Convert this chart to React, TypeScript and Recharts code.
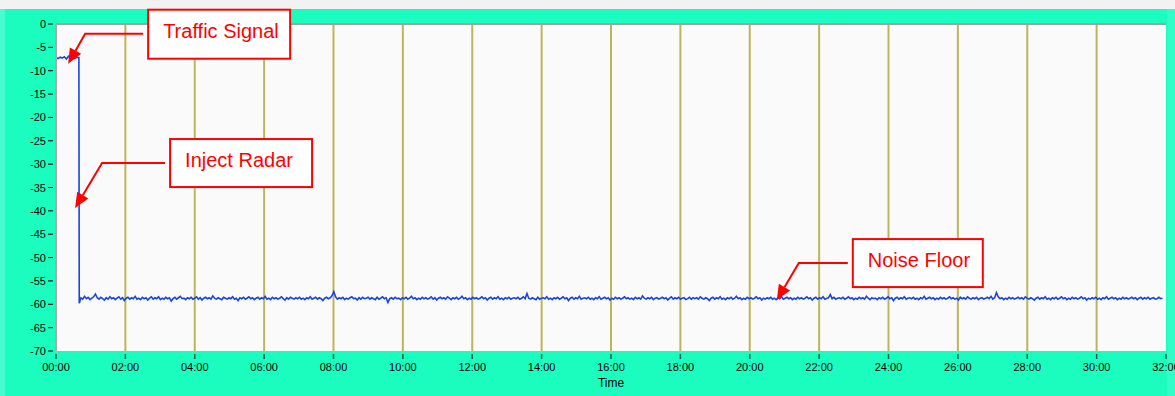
import { LineChart, Line, XAxis, YAxis, CartesianGrid, ReferenceLine, ReferenceDot } from 'recharts'

// time axis in minutes, level in dB
const xTicks = [0, 2, 4, 6, 8, 10, 12, 14, 16, 18, 20, 22, 24, 26, 28, 30, 32]
const gridTicks = [2, 4, 6, 8, 10, 12, 14, 16, 18, 20, 22, 24, 26, 28, 30]
const yTicks = [0, -5, -10, -15, -20, -25, -30, -35, -40, -45, -50, -55, -60, -65, -70]

// traffic signal before the radar is injected
const signalTimes = [0, 0.06, 0.12, 0.18, 0.24, 0.3, 0.36, 0.42, 0.48, 0.54, 0.6, 0.66]
const signalValues = [-7.2, -7.4, -7.1, -7.3, -7.0, -7.5, -6.9, -7.3, -7.2, -7.4, -7.1, -7.2]

// the drop when radar is injected
const dropTime = 0.67
const dropValue = -59.8

// noise floor samples, evenly spaced from NOISE_START to NOISE_END
const NOISE_START = 0.72
const NOISE_END = 31.9
const noiseValues = [
  -58.6, -58.9, -58.3, -58.8, -58.5, -59.0, -58.7, -58.4, -57.8, -58.6, -58.9, -58.5, -58.8, -59.1, -58.6, -58.9, -58.4, -58.8, -58.6, -59.0,
  -58.7, -58.4, -58.9, -58.6, -59.2, -58.7, -58.5, -58.9, -58.6, -58.8, -58.3, -58.9, -58.7, -59.0, -58.5, -58.8, -58.6, -59.1, -58.7, -58.4,
  -58.9, -58.6, -58.8, -58.4, -59.0, -58.7, -58.9, -58.5, -58.8, -58.6, -59.3, -58.8, -58.5, -58.9, -58.6, -58.3, -58.8, -58.7, -59.0, -58.6,
  -58.8, -58.5, -58.9, -58.7, -58.4, -58.9, -58.6, -59.1, -58.7, -58.5, -58.8, -58.6, -58.9, -58.2, -58.7, -58.9, -58.6, -58.8, -59.0, -58.5,
  -58.7, -58.9, -58.6, -58.8, -58.4, -58.9, -58.7, -59.2, -58.6, -58.8, -58.5, -58.9, -58.7, -58.4, -58.8, -58.6, -59.0, -58.7, -58.5, -58.9,
  -58.6, -58.8, -58.3, -58.9, -58.7, -59.0, -58.5, -58.8, -58.6, -58.9, -58.7, -58.4, -58.8, -59.1, -58.6, -58.9, -58.5, -58.7, -58.9, -58.6,
  -58.8, -58.5, -58.9, -58.7, -59.0, -58.6, -58.8, -58.4, -58.9, -58.7, -58.5, -58.9, -58.6, -58.8, -59.2, -58.7, -58.5, -58.8, -58.6, -58.2,
  -57.3, -58.4, -58.9, -58.6, -58.8, -58.5, -59.0, -58.7, -58.9, -58.6, -58.4, -58.8, -58.7, -59.1, -58.6, -58.9, -58.5, -58.8, -58.7, -58.5,
  -58.9, -58.6, -58.8, -59.0, -58.5, -58.9, -58.7, -58.4, -58.8, -58.6, -59.6, -58.8, -58.6, -58.9, -58.5, -58.8, -58.7, -59.0, -58.6, -58.8,
  -58.5, -58.9, -58.7, -58.3, -58.8, -58.6, -59.0, -58.7, -58.9, -58.5, -58.8, -58.6, -58.9, -58.7, -58.4, -58.9, -58.6, -59.1, -58.7, -58.5,
  -58.8, -58.6, -58.9, -58.4, -58.7, -59.0, -58.6, -58.8, -58.5, -58.9, -58.7, -58.3, -58.8, -58.6, -59.0, -58.7, -58.9, -58.5, -58.8, -58.6,
  -58.9, -58.7, -58.4, -58.8, -58.6, -59.1, -58.7, -58.5, -58.9, -58.6, -58.8, -58.4, -58.9, -58.7, -59.0, -58.6, -58.8, -58.5, -58.9, -58.7,
  -58.6, -58.8, -58.5, -58.9, -58.7, -58.4, -58.8, -57.7, -58.7, -58.9, -58.6, -58.8, -59.0, -58.5, -58.9, -58.7, -58.6, -58.8, -58.4, -58.9,
  -58.7, -59.0, -58.6, -58.8, -58.5, -58.9, -58.7, -58.4, -58.8, -58.6, -59.2, -58.7, -58.5, -58.9, -58.6, -58.8, -58.3, -58.9, -58.7, -58.6,
  -58.8, -58.5, -58.9, -58.7, -59.0, -58.6, -58.8, -58.4, -58.9, -58.7, -58.5, -58.8, -58.6, -59.1, -58.7, -58.9, -58.5, -58.8, -58.6, -58.9,
  -58.7, -58.4, -58.8, -58.6, -58.9, -58.7, -59.0, -58.5, -58.8, -58.6, -58.9, -58.2, -58.7, -58.9, -58.6, -58.8, -58.5, -59.0, -58.7, -58.6,
  -58.9, -58.7, -58.5, -58.8, -58.6, -59.1, -58.7, -58.4, -58.9, -58.6, -58.8, -58.5, -58.9, -58.7, -58.6, -59.0, -58.8, -58.5, -58.9, -58.6,
  -58.8, -58.6, -58.9, -58.4, -58.7, -58.9, -58.6, -58.8, -59.2, -58.7, -58.5, -58.9, -58.6, -58.8, -58.4, -58.9, -58.7, -59.0, -58.6, -58.8,
  -58.5, -58.9, -58.7, -58.3, -58.8, -58.6, -59.0, -58.7, -58.9, -58.5, -58.8, -58.6, -58.9, -58.7, -58.4, -58.8, -58.6, -59.1, -58.7, -58.9,
  -58.6, -58.8, -58.5, -58.9, -58.7, -59.0, -58.6, -58.8, -58.4, -58.9, -58.7, -58.5, -58.8, -58.6, -59.0, -58.7, -58.9, -58.5, -58.8, -58.6,
  -58.9, -58.7, -58.4, -58.8, -58.6, -59.1, -58.7, -58.5, -58.9, -58.6, -58.8, -58.4, -58.9, -58.7, -58.6, -57.9, -58.8, -58.5, -58.9, -58.7,
  -58.6, -58.8, -58.5, -58.9, -58.7, -58.4, -58.8, -58.6, -59.0, -58.7, -58.9, -58.5, -58.8, -58.6, -58.9, -58.3, -58.7, -59.0, -58.6, -58.8,
  -58.7, -59.0, -58.6, -58.8, -58.5, -58.9, -58.7, -58.4, -58.8, -58.6, -59.2, -58.7, -58.5, -58.9, -58.6, -58.8, -58.4, -58.9, -58.7, -58.6,
  -58.8, -58.5, -58.9, -58.7, -59.0, -58.6, -58.8, -58.3, -58.9, -58.7, -58.5, -58.8, -58.6, -59.0, -58.7, -58.9, -58.5, -58.8, -58.6, -58.9,
  -58.7, -58.4, -58.8, -58.6, -58.9, -58.7, -59.1, -58.5, -58.8, -58.6, -58.9, -58.4, -58.7, -58.9, -58.6, -58.8, -58.5, -59.0, -58.7, -58.6,
  -58.9, -58.7, -58.5, -58.8, -58.3, -58.9, -58.6, -57.5, -58.4, -58.8, -58.6, -59.0, -58.7, -58.9, -58.5, -58.8, -58.6, -58.9, -58.7, -58.5,
  -58.8, -58.6, -58.9, -58.4, -58.7, -58.9, -58.6, -58.8, -59.1, -58.7, -58.5, -58.9, -58.6, -58.8, -58.4, -58.9, -58.7, -59.0, -58.6, -58.8,
  -58.5, -58.9, -58.7, -58.4, -58.8, -58.6, -59.0, -58.7, -58.9, -58.5, -58.8, -58.6, -58.9, -58.7, -58.4, -58.8, -58.6, -59.1, -58.7, -58.9,
  -58.6, -58.8, -58.5, -58.9, -58.7, -59.0, -58.6, -58.8, -58.4, -58.9, -58.7, -58.5, -58.8, -58.6, -59.0, -58.7, -58.9, -58.5, -58.8, -58.6,
  -58.9, -58.7, -58.5, -58.8, -58.6, -59.0, -58.7, -58.5, -58.9, -58.6, -58.8, -58.5, -58.9, -58.7, -58.6, -58.9, -58.8, -58.5, -58.8, -58.7,
]

// callouts: label, where the arrow points (data coords)
const calloutLabels = ['Traffic Signal', 'Inject Radar', 'Noise Floor']
const calloutTimes = [0.35, 0.55, 20.78]
const calloutLevels = [-8.5, -39.4, -59.1]

const FONT = 'Arial, "Liberation Sans", sans-serif'
const GREEN = '#1bfdbf'
const RED = '#ff0000'

const noiseStep = (NOISE_END - NOISE_START) / (noiseValues.length - 1)
const data = [
  ...signalTimes.map((t, i) => ({ t, v: signalValues[i] })),
  { t: dropTime, v: dropValue },
  ...noiseValues.map((v, i) => ({ t: NOISE_START + i * noiseStep, v })),
]

// box / arrow layout (pixels relative to arrow tip)
const calloutLayout = [
  { box: [80, -54, 142, 49], bend: [17, -30] },
  { box: [95, -69, 142, 48], bend: [27, -45] },
  { box: [76, -61, 130, 48], bend: [22, -37] },
]

const fmtTime = (m: number) => `${String(m).padStart(2, '0')}:00`

function XTick({ x, y, payload }: any) {
  return (
    <g>
      <line x1={x} x2={x} y1={y + 3} y2={y + 8} stroke="#1f5a4f" strokeWidth={1.5} />
      <text x={x} y={y + 20} textAnchor="middle" fontSize={11} fontFamily={FONT} fill="#000">
        {fmtTime(payload.value)}
      </text>
    </g>
  )
}

function YTick({ x, y, payload }: any) {
  return (
    <g>
      <text x={x - 10} y={y + 4} textAnchor="end" fontSize={11} fontFamily={FONT} fill="#000">
        {payload.value}
      </text>
      <line x1={x - 8} x2={x - 3} y1={y} y2={y} stroke="#000" strokeWidth={1} />
    </g>
  )
}

function Callout({ cx, cy, idx }: any) {
  if (cx == null || cy == null) return null
  const { box, bend } = calloutLayout[idx]
  const [bx, by, bw, bh] = box
  const hx = cx + bend[0]
  const hy = cy + bend[1]
  const ang = Math.atan2(cy - hy, cx - hx)
  const len = 15
  const half = 6.5
  const baseX = cx - len * Math.cos(ang)
  const baseY = cy - len * Math.sin(ang)
  const px = -Math.sin(ang) * half
  const py = Math.cos(ang) * half
  return (
    <g>
      <polyline
        points={`${cx + bx - 5},${hy} ${hx},${hy} ${baseX},${baseY}`}
        stroke={RED}
        strokeWidth={2}
        fill="none"
      />
      <polygon points={`${cx},${cy} ${baseX + px},${baseY + py} ${baseX - px},${baseY - py}`} fill={RED} />
      <rect x={cx + bx} y={cy + by} width={bw} height={bh} fill="#fff" stroke={RED} strokeWidth={2} />
      <text x={cx + bx + 15} y={cy + by + 28} fill={RED} fontSize={20} fontFamily={FONT}>
        {calloutLabels[idx]}
      </text>
    </g>
  )
}

export default function App() {
  return (
    <div
      style={{
        position: 'absolute',
        left: 0,
        top: 0,
        width: 1175,
        height: 396,
        background: `linear-gradient(to bottom, #f2f2f2 0px, #f2f2f2 9px, ${GREEN} 9px)`,
      }}
    >
      <div style={{ position: 'absolute', left: 0, top: 9, width: 5, height: 387, background: '#45fdd0' }} />
      <div style={{ position: 'absolute', right: 0, top: 9, width: 8, height: 387, background: '#30fdc8' }} />
      <div style={{ position: 'absolute', left: 0, top: 0 }}>
        <LineChart width={1175} height={396} data={data} margin={{ top: 24, right: 9, bottom: 0, left: 0 }}>
          <CartesianGrid horizontal={false} vertical={false} fill="#fafafa" />
          {gridTicks.map((t) => (
            <ReferenceLine key={t} x={t} stroke="#bdb55a" strokeWidth={2} />
          ))}
          <ReferenceLine y={0} stroke="#a0a0a0" strokeWidth={2} />
          <XAxis
            dataKey="t"
            type="number"
            domain={[0, 32]}
            ticks={xTicks}
            interval={0}
            height={45}
            axisLine={false}
            tickLine={false}
            tickSize={0}
            tickMargin={0}
            tick={<XTick />}
            label={{ value: 'Time', position: 'insideBottom', offset: 9, fill: '#000', fontSize: 12, fontFamily: FONT }}
          />
          <YAxis
            type="number"
            domain={[-70, 0]}
            ticks={yTicks}
            interval={0}
            width={56}
            axisLine={{ stroke: '#a8a8a8', strokeWidth: 2 }}
            tickLine={false}
            tickSize={0}
            tickMargin={0}
            tick={<YTick />}
          />
          <Line
            type="linear"
            dataKey="v"
            stroke="#1a45e0"
            strokeWidth={1.6}
            dot={false}
            isAnimationActive={false}
          />
          {calloutLabels.map((label, i) => (
            <ReferenceDot
              key={label}
              x={calloutTimes[i]}
              y={calloutLevels[i]}
              ifOverflow="visible"
              shape={(p: any) => <Callout {...p} idx={i} />}
            />
          ))}
        </LineChart>
      </div>
    </div>
  )
}
